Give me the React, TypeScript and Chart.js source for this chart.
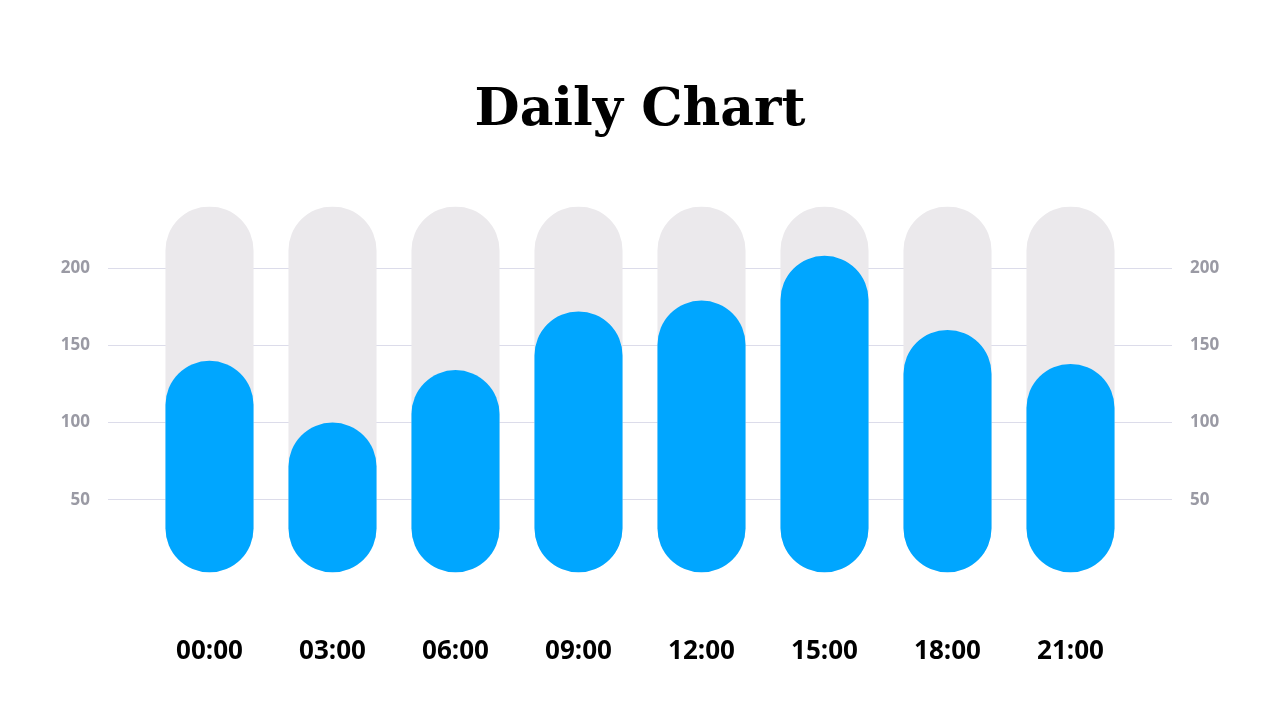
import React, { useRef, useEffect } from 'react';
import { Chart, registerables } from 'chart.js';

Chart.register(...registerables);

// data
const hours = ['00:00', '03:00', '06:00', '09:00', '12:00', '15:00', '18:00', '21:00'];
const dailyValues = [140, 100, 134, 172, 179, 208, 160, 138];
const trackValues = [240, 240, 240, 240, 240, 240, 240, 240];
const yTicks = [50, 100, 150, 200];

const BLUE = '#00A6FF';
const TRACK = '#EBE9EC';
const GRID = '#DCDCEA';
const TICK_GREY = '#9A9AA4';

const App: React.FC = () => {
  const canvasRef = useRef<HTMLCanvasElement | null>(null);
  const chartRef = useRef<Chart | null>(null);

  useEffect(() => {
    document.body.style.margin = '0';
    if (!canvasRef.current) return;
    const ctx = canvasRef.current.getContext('2d');
    if (!ctx) return;

    const yAxis = (position: 'left' | 'right') => ({
      position,
      min: 0,
      max: 240,
      afterBuildTicks: (scale: any) => {
        scale.ticks = yTicks.map((v) => ({ value: v }));
      },
      afterFit: (scale: any) => {
        scale.width = 100;
      },
      ticks: {
        color: TICK_GREY,
        padding: 18,
        font: { family: '"Open Sans", sans-serif', size: 17, weight: 'bold' as const },
      },
      grid: {
        color: GRID,
        lineWidth: 1,
        tickLength: 40,
        drawOnChartArea: position === 'left',
      },
      border: { display: false },
    });

    chartRef.current = new Chart(ctx, {
      type: 'bar',
      data: {
        labels: hours,
        datasets: [
          {
            label: 'Daily',
            data: dailyValues,
            backgroundColor: BLUE,
            base: 3,
            order: 1,
          } as any,
          {
            label: 'Track',
            data: trackValues,
            backgroundColor: TRACK,
            base: 3,
            order: 2,
          } as any,
        ],
      },
      options: {
        animation: false,
        responsive: false,
        maintainAspectRatio: false,
        layout: { padding: { left: 48, right: 48, top: 0, bottom: 54 } },
        datasets: {
          bar: {
            grouped: false,
            categoryPercentage: 1,
            barPercentage: 0.716,
            borderRadius: 100,
            borderSkipped: false,
          },
        },
        plugins: {
          legend: { display: false },
          tooltip: { enabled: false },
          title: {
            display: true,
            text: 'Daily Chart',
            color: '#000000',
            font: { family: '"DejaVu Serif", serif', size: 52, weight: 'bold' as const },
            padding: { top: 80, bottom: 64 },
          },
        },
        scales: {
          x: {
            grid: { display: false, drawTicks: false },
            border: { display: false },
            afterFit: (scale: any) => {
              scale.height = 89;
            },
            ticks: {
              color: '#000000',
              padding: 59,
              font: { family: '"Open Sans", sans-serif', size: 26, weight: 'bold' as const },
            },
          },
          y: yAxis('left') as any,
          y2: yAxis('right') as any,
        },
      },
    });

    return () => {
      if (chartRef.current) {
        chartRef.current.destroy();
        chartRef.current = null;
      }
    };
  }, []);

  return (
    <div style={{ width: 1280, height: 720, background: '#ffffff' }}>
      <canvas ref={canvasRef} width={1280} height={720} style={{ display: 'block' }} />
    </div>
  );
};

export default App;
